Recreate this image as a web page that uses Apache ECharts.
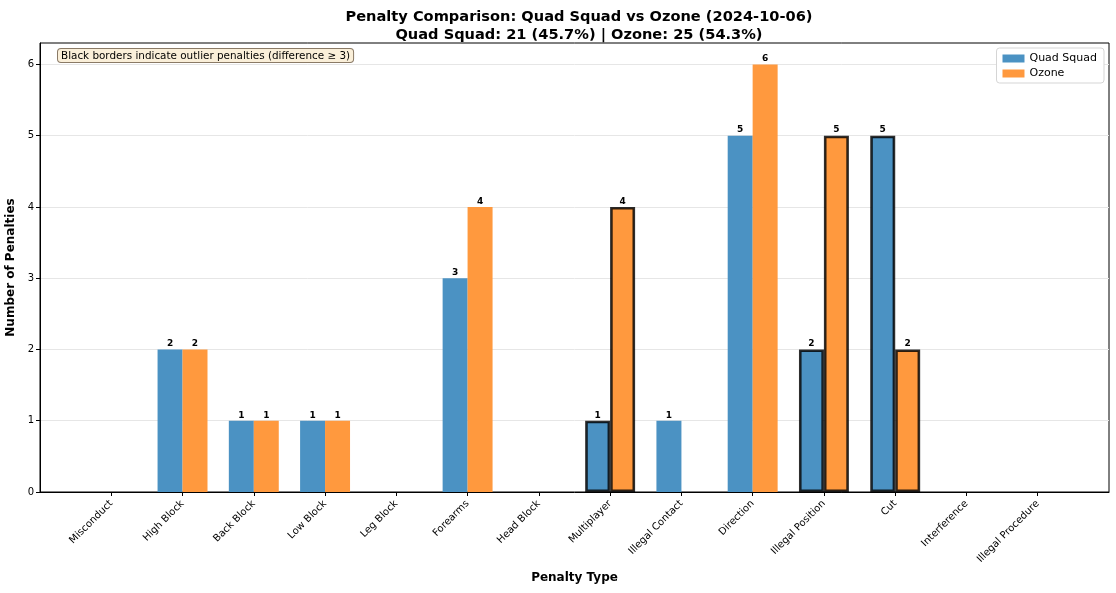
<!DOCTYPE html>
<html>
<head>
<meta charset="utf-8">
<script src="https://cdn.jsdelivr.net/npm/echarts@6/dist/echarts.min.js"></script>
<style>
  html, body { margin: 0; padding: 0; background: #fff; }
  #chart { width: 1116px; height: 593px; }
</style>
</head>
<body>
<div id="chart"></div>
<script>
// penalty categories, in display order
var categories = ['Misconduct', 'High Block', 'Back Block', 'Low Block', 'Leg Block', 'Forearms',
  'Head Block', 'Multiplayer', 'Illegal Contact', 'Direction', 'Illegal Position', 'Cut',
  'Interference', 'Illegal Procedure'];
var quadSquad = [0, 2, 1, 1, 0, 3, 0, 1, 1, 5, 2, 5, 0, 0];
var ozone     = [0, 2, 1, 1, 0, 4, 0, 4, 0, 6, 5, 2, 0, 0];
var yTicks = [0, 1, 2, 3, 4, 5, 6];

var teamA = 'Quad Squad', teamB = 'Ozone';
var outlierDiff = 3;
var halfBar = 0.175; // bar width 0.35 in category units

var font = 'DejaVu Sans';
var blue = '#4b92c3', orange = '#ff993e';

function total(arr) {
	return arr.reduce(function(a, b) { return a + b; }, 0);
}

function buildSeries(values, other, shift, name, color) {
	var data = [];
	values.forEach(function(v, i) {
		if (v === 0) return;
		var item = { value: [i + shift, v] };
		if (Math.abs(v - other[i]) >= outlierDiff) {
			item.itemStyle = { borderColor: 'rgba(0,0,0,0.82)', borderWidth: 2.6 };
		}
		data.push(item);
	});
	return {
		name: name,
		type: 'bar',
		barWidth: 25,
		barGap: '-100%',
		itemStyle: { color: color },
		label: {
			show: true, position: 'top', distance: 1,
			fontFamily: font, fontSize: 9, fontWeight: 'bold', color: '#000'
		},
		data: data
	};
}

var totA = total(quadSquad), totB = total(ozone), all = totA + totB;
var subtitle = teamA + ': ' + totA + ' (' + (100 * totA / all).toFixed(1) + '%) | ' +
	teamB + ': ' + totB + ' (' + (100 * totB / all).toFixed(1) + '%)';

var idx = categories.map(function(c, i) { return i; });

var myChart = echarts.init(document.getElementById('chart'));
var option = {
	animation: false,
	textStyle: { fontFamily: font },
	title: {
		text: 'Penalty Comparison: ' + teamA + ' vs ' + teamB + ' (2024-10-06)\n' + subtitle,
		left: 574, top: 3, textAlign: 'center',
		textStyle: { fontFamily: font, fontSize: 14.6, fontWeight: 'bold', color: '#000', lineHeight: 18 }
	},
	legend: {
		orient: 'vertical',
		right: 12, top: 48,
		icon: 'rect',
		itemWidth: 22, itemHeight: 8, itemGap: 4,
		padding: [5, 7, 4, 6],
		borderColor: '#d5d5d5', borderWidth: 1, borderRadius: 3,
		backgroundColor: '#fff',
		textStyle: { fontFamily: font, fontSize: 11, color: '#000' },
		data: [teamA, teamB]
	},
	graphic: [{
		type: 'text',
		left: 57, top: 48,
		z: 10,
		style: {
			text: 'Black borders indicate outlier penalties (difference \u2265 ' + outlierDiff + ')',
			fontFamily: font, fontSize: 10.4, fill: '#000',
			backgroundColor: '#faefd9', borderColor: '#8a7a66', borderWidth: 1, borderRadius: 3,
			padding: [2, 3, 1, 3]
		}
	}],
	grid: {
		left: 40, right: 7, top: 43, bottom: 101,
		outerBoundsMode: 'none',
		containLabel: false,
		show: true, borderColor: '#000', borderWidth: 1
	},
	xAxis: {
		type: 'value',
		min: -1, max: 14, interval: 1,
		name: 'Penalty Type', nameLocation: 'middle', nameGap: 80,
		nameTextStyle: { fontFamily: font, fontSize: 12, fontWeight: 'bold', color: '#000' },
		axisLine: { show: true, onZero: false, lineStyle: { color: '#000' } },
		axisTick: { show: true, length: 4, customValues: idx, lineStyle: { color: '#000' } },
		splitLine: { show: false },
		axisLabel: {
			rotate: 45, fontSize: 10, color: '#000', margin: 10,
			customValues: idx,
			formatter: function(v) { return categories[v] || ''; }
		}
	},
	yAxis: {
		type: 'value',
		min: 0, max: 6.3, interval: 1,
		name: 'Number of Penalties', nameLocation: 'middle', nameGap: 20,
		nameTextStyle: { fontFamily: font, fontSize: 12, fontWeight: 'bold', color: '#000' },
		axisLine: { show: true, onZero: false, lineStyle: { color: '#000' } },
		axisTick: { show: true, length: 4, customValues: yTicks, lineStyle: { color: '#000' } },
		axisLabel: { fontSize: 10, color: '#000', margin: 6, customValues: yTicks },
		splitLine: { show: true, lineStyle: { color: '#e6e6e6', width: 1 } }
	},
	series: [
		buildSeries(quadSquad, ozone, -halfBar, teamA, blue),
		buildSeries(ozone, quadSquad, halfBar, teamB, orange)
	]
};
myChart.setOption(option);

window.addEventListener('resize', function() {
	myChart.resize();
});
</script>
</body>
</html>
